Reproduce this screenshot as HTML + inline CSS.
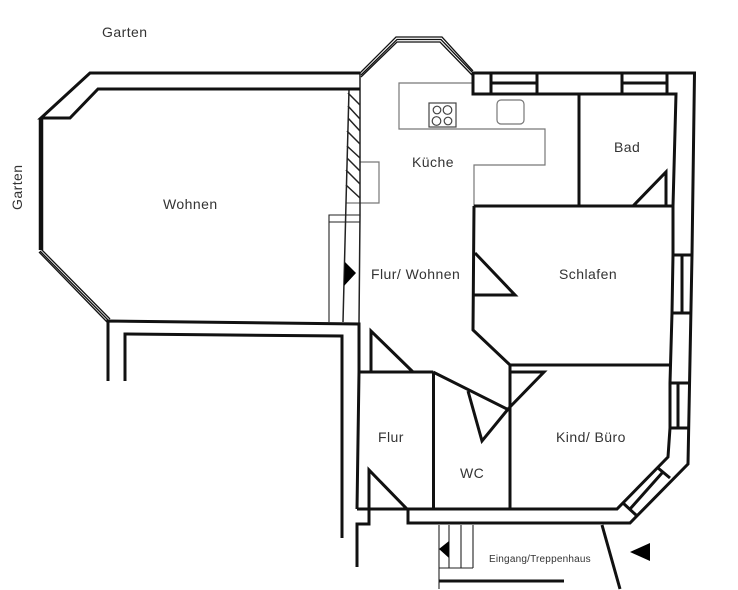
<!DOCTYPE html>
<html>
<head>
<meta charset="utf-8">
<style>
html,body{margin:0;padding:0;background:#fff;width:738px;height:590px;overflow:hidden}
svg{display:block}
text{font-family:"Liberation Sans",sans-serif;fill:#333;font-size:14px;letter-spacing:.45px}
</style>
</head>
<body>
<svg width="738" height="590" viewBox="0 0 738 590" xmlns="http://www.w3.org/2000/svg">
<rect width="738" height="590" fill="#fff"/>
<!-- kitchen grey lines -->
<g fill="none" stroke="#777" stroke-width="1.2">
<path d="M473 83H399V129H545V165H474V206"/>
<rect x="429" y="103" width="27" height="24" stroke="#444"/>
<circle cx="437" cy="110" r="3.8" stroke="#444"/>
<circle cx="447.500" cy="110" r="4.300" stroke="#444"/>
<circle cx="436.500" cy="121" r="4.300" stroke="#444"/>
<circle cx="448" cy="121" r="3.800" stroke="#444"/>
<rect x="497" y="100" width="27" height="24" rx="4"/>
<path d="M360 162H379V203H346"/>
</g>
<!-- thin lines -->
<g fill="none" stroke="#222" stroke-width="1.1">
<path d="M329 322V215H360M329 222H360"/>
<path d="M439 589V525M449 525V568M461 525V568M473 525V568M439 568H473"/>
</g>
<!-- bays triple lines -->
<g fill="none" stroke="#111" stroke-width="1.300">
<path d="M360 73L396 37H442L473 71"/>
<path d="M361 75L397 39.500H441L473 73"/>
<path d="M361 77L397 42H440L472 75"/>
<path d="M41 249L110 319"/>
<path d="M40 251L109 321"/>
<path d="M39 252L107 322"/>
</g>
<!-- hatch -->
<g fill="none" stroke="#222" stroke-width="1.500">
<path d="M349 90L346 203L343 322"/>
<path d="M360 73V215L359 323"/>
<path d="M348 93L360 105M348 106L360 119M348 118L360 131M347 131L360 144M347 146L360 158M347 158L360 171M346 170L360 184M346 185L360 198"/>
</g>
<!-- thick walls -->
<g fill="none" stroke="#111" stroke-width="3" stroke-linejoin="miter">
<path d="M360 73H90L41 118H70L98 89H360" />
<path d="M108 381V321L359 324V372M359 372H433M359 372L357 509"/>
<path d="M125 381V334L342 336V538"/>
<path d="M473 73H694.500L692 255L688 464L630 523H408V509"/>
<path d="M473 73V94H676L673 206V255L672 313L670 383V428L668 457L617 509H357"/>
<path d="M491 73V93M537 73V93M491 83H537M622 73V93M667 73V93M622 83H667"/>
<path d="M579 93V206"/>
<path d="M474 206H672M474 206L473 330L510 365H670M510 365V509"/>
<path d="M475 253L515 295H474"/>
<path d="M511 372H544L509 408"/>
<path d="M633 206L666 172V206"/>
<path d="M433.500 372V509M433 372L509 410"/>
<path d="M468 391L482 441L509 408"/>
<path d="M371 372V331L413 372"/>
<path d="M407 509L369 470V524H357V567"/>
<path d="M673 255H692M673 313H691M682 255V313M671 383H690M670 428H689M678 383V428"/>
<path d="M658 468L670 478M623 503L636 515M662 473L630 509"/>
<path d="M439 581H564M602 525L620 589"/>
</g>
<path d="M41 118V250" stroke="#111" stroke-width="4.500" fill="none"/>
<!-- black arrows -->
<path d="M345 262L356 273L344 286Z" fill="#000"/>
<path d="M449 541L439 549L449 558Z" fill="#000"/>
<path d="M650 543L630 552L650 561Z" fill="#000"/>
<!-- labels -->
<text x="102" y="37">Garten</text>
<text transform="translate(22,210) rotate(-90)">Garten</text>
<text x="163" y="209">Wohnen</text>
<text x="412" y="167">Küche</text>
<text x="614" y="152">Bad</text>
<text x="371" y="279">Flur/ Wohnen</text>
<text x="559" y="279">Schlafen</text>
<text x="378" y="442">Flur</text>
<text x="460" y="478">WC</text>
<text x="556" y="442">Kind/ Büro</text>
<text x="489" y="562" style="font-size:10px;letter-spacing:.2px">Eingang/Treppenhaus</text>
</svg>
</body>
</html>
